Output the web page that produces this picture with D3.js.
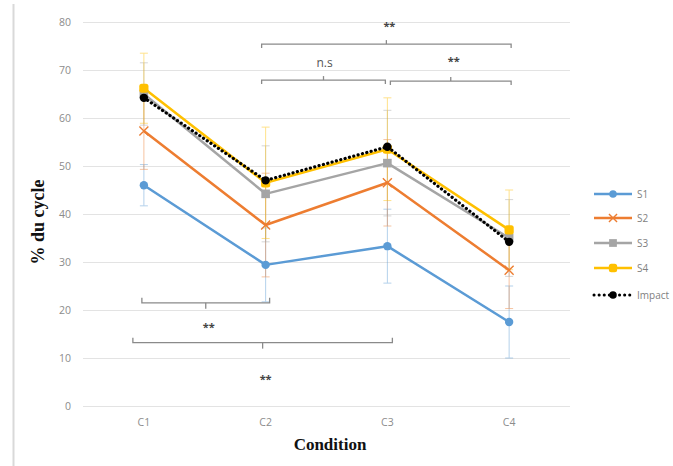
<!DOCTYPE html>
<html><head><meta charset="utf-8">
<script src="https://cdn.jsdelivr.net/npm/d3@7"></script>
<style>body{margin:0;background:#fff}svg{display:block}</style>
</head><body>
<svg id="chart" width="673" height="466"></svg>
<script>
const categories = ["C1", "C2", "C3", "C4"];
const yTicks = [0, 10, 20, 30, 40, 50, 60, 70, 80];
const seriesNames = ["S1", "S2", "S3", "S4", "Impact"];
const s1 = [46, 29.4, 33.3, 17.5];
const s1Err = [4.3, 7.7, 7.7, 7.5];
const s2 = [57.3, 37.7, 46.5, 28.3];
const s2Err = [8, 10.8, 9, 8];
const s3 = [65, 44.2, 50.6, 35];
const s3Err = [6.5, 10, 11, 8];
const s4 = [66.2, 46.5, 53.5, 36.7];
const s4Err = [7.3, 11.6, 10.7, 8.3];
const impact = [64.2, 47, 54, 34.2];
// significance brackets: from, to, label, level (in y units), direction
const bracketFrom = ["C2", "C2", "C3", "C1", "C1"];
const bracketTo = ["C4", "C3", "C4", "C2", "C3"];
const bracketLabels = ["**", "n.s", "**", "**", "**"];
const bracketLevels = [75.4, 67.9, 67.7, 21.5, 13.2];
const bracketDirs = ["down", "down", "down", "up", "up"];

const colors = {S1:"#5B9BD5", S2:"#ED7D31", S3:"#A5A5A5", S4:"#FFC000", Impact:"#000000"};
const svg = d3.select("#chart");
const x = d3.scaleBand().domain(categories).range([83, 570]);
const cx = c => x(c) + x.bandwidth() / 2;
const y = d3.scaleLinear().domain([0, 80]).range([406, 22]);

// left frame line
svg.append("line").attr("x1", 13.5).attr("x2", 13.5).attr("y1", 4).attr("y2", 466)
  .attr("stroke", "#d9d9d9").attr("stroke-width", 2);

// gridlines
const yAxis = d3.axisLeft(y).tickValues(yTicks).tickSize(-(570 - 83)).tickPadding(12);
const gy = svg.append("g").attr("transform", "translate(83,0)").call(yAxis);
gy.select(".domain").remove();
gy.selectAll(".tick line").attr("stroke", "#e3e3e3").attr("stroke-width", 1);
gy.selectAll(".tick text").attr("fill", "#8c8c8c").attr("font-family", "Open Sans, sans-serif").attr("font-size", 10.5);

const xAxis = d3.axisBottom(x).tickSize(0).tickPadding(13);
const gx = svg.append("g").attr("transform", "translate(0,406)").call(xAxis);
gx.select(".domain").remove();
gx.selectAll(".tick text").attr("fill", "#8c8c8c").attr("font-family", "Open Sans, sans-serif").attr("font-size", 10.5);

// axis titles
svg.append("text").attr("x", 330).attr("y", 450).attr("text-anchor", "middle")
  .attr("font-family", "Liberation Serif, serif").attr("font-weight", "bold").attr("font-size", 17)
  .attr("fill", "#111").text("Condition");
svg.append("text").attr("transform", "translate(44,222) rotate(-90)").attr("text-anchor", "middle")
  .attr("font-family", "Liberation Serif, serif").attr("font-weight", "bold").attr("font-size", 18)
  .attr("fill", "#111").text("% du cycle");

const seriesData = [
  {name:"S1", vals:s1, err:s1Err},
  {name:"S2", vals:s2, err:s2Err},
  {name:"S3", vals:s3, err:s3Err},
  {name:"S4", vals:s4, err:s4Err}
];

// error bars
const eg = svg.append("g");
seriesData.forEach(s => {
  s.vals.forEach((v, i) => {
    const X = cx(categories[i]);
    const g = eg.append("g").attr("stroke", colors[s.name]).attr("stroke-width", 1).attr("opacity", 0.45);
    g.append("line").attr("x1", X).attr("x2", X).attr("y1", y(v - s.err[i])).attr("y2", y(v + s.err[i]));
    [v - s.err[i], v + s.err[i]].forEach(e => {
      g.append("line").attr("x1", X - 4).attr("x2", X + 4).attr("y1", y(e)).attr("y2", y(e));
    });
  });
});

// brackets
const labelOffsets = [-14, -13.5, -16, 28, 40];
const bg = svg.append("g").attr("stroke", "#8a8a8a").attr("stroke-width", 1.3).attr("fill", "none");
bracketLabels.forEach((label, k) => {
  const a = bracketFrom[k], b = bracketTo[k], dir = bracketDirs[k];
  let xa = cx(a) + (dir === "up" ? -2 : -4), xb = cx(b) + (dir === "up" ? 4 : 2);
  if (a === "C3" && b === "C4") xa = cx(a) + 3;
  if (a === "C2" && b === "C3") xb = cx(b) - 2;
  if (a === "C1" && b === "C3") { xa = cx(a) - 11; xb = cx(b) + 5; }
  const Y = y(bracketLevels[k]);
  const endDy = dir === "down" ? 4 : -5;
  const midDy = dir === "down" ? -4 : 6;
  bg.append("path").attr("d", `M${xa},${Y + endDy}V${Y}H${xb}V${Y + endDy}`);
  const xm = (xa + xb) / 2;
  bg.append("line").attr("x1", xm).attr("x2", xm).attr("y1", Y).attr("y2", Y + midDy);
  svg.append("text").attr("x", xm + (label === "n.s" ? 1 : 3)).attr("y", Y + labelOffsets[k])
    .attr("text-anchor", "middle").attr("font-family", "Open Sans, sans-serif")
    .attr("font-size", label === "n.s" ? 12 : 11).attr("font-weight", label === "n.s" ? "normal" : "bold")
    .attr("fill", label === "n.s" ? "#555" : "#444").text(label);
});

// lines
const line = d3.line().x((d, i) => cx(categories[i])).y(d => y(d));
seriesData.forEach(s => {
  svg.append("path").datum(s.vals).attr("d", line).attr("fill", "none")
    .attr("stroke", colors[s.name]).attr("stroke-width", 2.5).attr("stroke-linejoin", "round");
});

function marker(g, name, X, Y, scale) {
  const c = colors[name];
  if (name === "S1") g.append("circle").attr("cx", X).attr("cy", Y).attr("r", 4.2 * scale).attr("fill", c);
  else if (name === "S2") {
    const r = 4.5 * scale;
    g.append("path").attr("d", `M${X - r},${Y - r}L${X + r},${Y + r}M${X - r},${Y + r}L${X + r},${Y - r}`)
      .attr("stroke", c).attr("stroke-width", 1.4);
  } else if (name === "S3") {
    const r = 4.3 * scale;
    g.append("rect").attr("x", X - r).attr("y", Y - r).attr("width", 2 * r).attr("height", 2 * r).attr("fill", c);
  } else if (name === "S4") {
    const r = 4.6 * scale;
    g.append("rect").attr("x", X - r).attr("y", Y - r).attr("width", 2 * r).attr("height", 2 * r)
      .attr("rx", 2.5).attr("fill", c);
  } else {
    g.append("circle").attr("cx", X).attr("cy", Y).attr("r", 4.2 * scale).attr("fill", c);
  }
}
const mg = svg.append("g");
seriesData.forEach(s => s.vals.forEach((v, i) => marker(mg, s.name, cx(categories[i]), y(v), 1)));

// impact dotted line
svg.append("path").datum(impact).attr("d", line).attr("fill", "none")
  .attr("stroke", "#000").attr("stroke-width", 3.2).attr("stroke-dasharray", "0.1,4.4").attr("stroke-linecap", "round");
impact.forEach((v, i) => marker(svg, "Impact", cx(categories[i]), y(v), 1));

// legend
const lg = svg.append("g");
const legY = [194, 218, 243, 268, 295];
seriesNames.forEach((n, i) => {
  const Y = legY[i];
  if (n === "Impact") {
    lg.append("line").attr("x1", 594).attr("x2", 632).attr("y1", Y).attr("y2", Y)
      .attr("stroke", "#000").attr("stroke-width", 3).attr("stroke-dasharray", "0.1,5").attr("stroke-linecap", "round");
  } else {
    lg.append("line").attr("x1", 594).attr("x2", 632).attr("y1", Y).attr("y2", Y)
      .attr("stroke", colors[n]).attr("stroke-width", 2.5);
  }
  marker(lg, n, 613, Y, 0.9);
  lg.append("text").attr("x", 637).attr("y", Y + 4).attr("font-family", "Open Sans, sans-serif")
    .attr("font-size", 10).attr("fill", "#7f7f7f").text(n);
});
</script>
</body></html>
